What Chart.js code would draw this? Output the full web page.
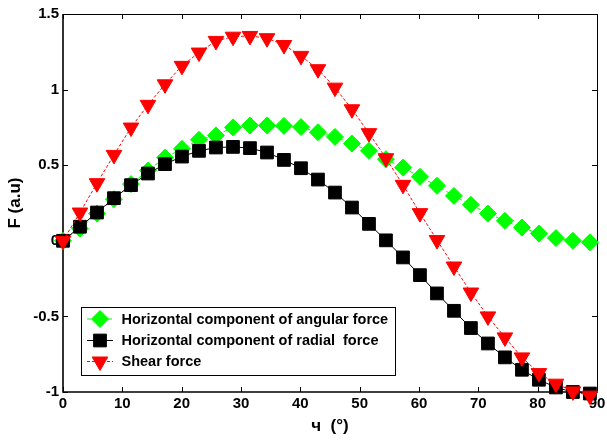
<!DOCTYPE html>
<html>
<head>
<meta charset="utf-8">
<script src="https://cdn.jsdelivr.net/npm/chart.js@4/dist/chart.umd.min.js"></script>
<style>
  html, body { margin: 0; padding: 0; background: #fff; }
  canvas { display: block; }
</style>
</head>
<body>
<canvas id="chart" width="607" height="440"></canvas>
<script>
// Angle samples in degrees (step of 0.05 rad).
const angleDeg = [0, 2.86, 5.73, 8.59, 11.46, 14.32, 17.19, 20.05, 22.92, 25.78,
  28.65, 31.51, 34.38, 37.24, 40.11, 42.97, 45.84, 48.70, 51.57, 54.43,
  57.30, 60.16, 63.03, 65.89, 68.75, 71.62, 74.48, 77.35, 80.21, 83.08,
  85.94, 88.81];

const angularForce = [0, 0.08, 0.18, 0.275, 0.375, 0.465, 0.55, 0.608, 0.668, 0.697,
  0.75, 0.762, 0.763, 0.76, 0.752, 0.718, 0.687, 0.643, 0.595, 0.54,
  0.484, 0.423, 0.364, 0.297, 0.238, 0.18, 0.132, 0.088, 0.048, 0.018,
  0.0, -0.01];

const radialForce = [0, 0.093, 0.187, 0.282, 0.368, 0.445, 0.507, 0.557, 0.595, 0.617,
  0.621, 0.613, 0.584, 0.535, 0.48, 0.405, 0.319, 0.22, 0.112, 0.003,
  -0.11, -0.227, -0.348, -0.463, -0.577, -0.679, -0.771, -0.853, -0.919, -0.97,
  -1.0, -1.01];

const shearForce = [0, 0.187, 0.381, 0.568, 0.749, 0.899, 1.035, 1.157, 1.245, 1.322,
  1.35, 1.355, 1.34, 1.295, 1.223, 1.135, 1.013, 0.87, 0.712, 0.546,
  0.37, 0.183, 0.005, -0.17, -0.342, -0.5, -0.639, -0.771, -0.875, -0.945,
  -0.996, -1.024];

const seriesLabels = [
  "Horizontal component of angular force",
  "Horizontal component of radial  force",
  "Shear force",
];

const xTicks = [0, 10, 20, 30, 40, 50, 60, 70, 80, 90];
const yTicks = [-1, -0.5, 0, 0.5, 1, 1.5];

const FONT = "'Liberation Sans', Arial, sans-serif";
Chart.defaults.font.family = FONT;
Chart.defaults.color = "#000";

const toPoints = (ys) => angleDeg.map((x, i) => ({ x, y: ys[i] }));

// MATLAB-ish box: full frame with ticks pointing inwards on all four sides.
const boxPlugin = {
  id: "box",
  beforeDatasetsDraw(chart) {
    const { ctx, chartArea: a, scales } = chart;
    const len = 5;
    ctx.save();
    ctx.strokeStyle = "#000";
    ctx.lineWidth = 1;
    ctx.beginPath();
    scales.x.ticks.forEach((t) => {
      const px = Math.round(scales.x.getPixelForValue(t.value)) + 0.5;
      ctx.moveTo(px, a.bottom); ctx.lineTo(px, a.bottom - len);
      ctx.moveTo(px, a.top); ctx.lineTo(px, a.top + len);
    });
    scales.y.ticks.forEach((t) => {
      const py = Math.round(scales.y.getPixelForValue(t.value)) + 0.5;
      ctx.moveTo(a.left, py); ctx.lineTo(a.left + len, py);
      ctx.moveTo(a.right, py); ctx.lineTo(a.right - len, py);
    });
    ctx.moveTo(a.left, a.top + 0.5); ctx.lineTo(a.right, a.top + 0.5);
    ctx.moveTo(a.right + 0.5, a.top); ctx.lineTo(a.right + 0.5, a.bottom);
    ctx.stroke();
    ctx.lineWidth = 1.6;
    ctx.beginPath();
    ctx.moveTo(a.left, a.top); ctx.lineTo(a.left, a.bottom);
    ctx.lineTo(a.right + 1, a.bottom);
    ctx.stroke();
    ctx.restore();
  },
};

// Legend drawn inside the axes, lower left, with a framed box.
const legendPlugin = {
  id: "boxLegend",
  afterDatasetsDraw(chart) {
    const { ctx } = chart;
    const box = { x: 81.5, y: 307.5, w: 314, h: 68 };
    const rows = [319, 340.5, 361.5];
    ctx.save();
    ctx.fillStyle = "#fff";
    ctx.fillRect(box.x, box.y, box.w, box.h);
    ctx.strokeStyle = "#000";
    ctx.lineWidth = 1;
    ctx.strokeRect(box.x, box.y, box.w, box.h);
    ctx.font = "bold 14.5px " + FONT;
    ctx.textBaseline = "middle";
    chart.data.datasets.forEach((ds, i) => {
      const y = rows[i];
      ctx.save();
      ctx.strokeStyle = ds.borderColor;
      ctx.lineWidth = ds.borderWidth;
      ctx.setLineDash(ds.borderDash || []);
      ctx.beginPath();
      ctx.moveTo(87, y); ctx.lineTo(113, y);
      ctx.stroke();
      ctx.restore();
      ctx.save();
      ctx.fillStyle = ds.pointBackgroundColor;
      ctx.strokeStyle = ds.pointBorderColor;
      ctx.lineWidth = 1;
      Chart.helpers.drawPoint(ctx, {
        pointStyle: ds.pointStyle,
        rotation: ds.pointRotation || 0,
        radius: ds.pointRadius,
        borderWidth: 1,
      }, 100, y);
      ctx.restore();
      ctx.fillStyle = "#000";
      ctx.fillText(ds.label, 121.5, y + 0.5);
    });
    ctx.restore();
  },
};

new Chart(document.getElementById("chart"), {
  type: "line",
  data: {
    datasets: [
      {
        label: seriesLabels[0],
        data: toPoints(angularForce),
        borderColor: "#00ff00",
        borderWidth: 1,
        borderDash: [4, 3],
        pointStyle: "rectRot",
        pointRadius: 8.5,
        pointBackgroundColor: "#00ff00",
        pointBorderColor: "#00ff00",
        pointBorderWidth: 1,
        order: 3,
        clip: false,
      },
      {
        label: seriesLabels[1],
        data: toPoints(radialForce),
        borderColor: "#000",
        borderWidth: 1,
        pointStyle: "rect",
        pointRadius: 9,
        pointBackgroundColor: "#000",
        pointBorderColor: "#000",
        pointBorderWidth: 1,
        order: 2,
        clip: false,
      },
      {
        label: seriesLabels[2],
        data: toPoints(shearForce),
        borderColor: "#ff0000",
        borderWidth: 1,
        borderDash: [3, 2],
        pointStyle: "triangle",
        pointRotation: 180,
        pointRadius: 9,
        pointBackgroundColor: "#ff0000",
        pointBorderColor: "#ff0000",
        pointBorderWidth: 1,
        order: 1,
        clip: false,
      },
    ],
  },
  options: {
    responsive: false,
    animation: false,
    devicePixelRatio: 1,
    layout: { padding: { left: 0, right: 6, top: 14, bottom: 0 } },
    plugins: { legend: { display: false }, tooltip: { enabled: false } },
    scales: {
      x: {
        type: "linear",
        min: 0,
        max: 90,
        afterBuildTicks: (s) => { s.ticks = xTicks.map((v) => ({ value: v })); },
        afterFit: (s) => { s.height = 48; s.paddingLeft = 0; s.paddingRight = 0; },
        grid: { display: false, drawTicks: false },
        border: { display: false },
        ticks: {
          padding: 3,
          maxRotation: 0,
          autoSkip: false,
          font: { size: 15, weight: "bold" },
          callback: (v) => String(v),
        },
        title: {
          display: true,
          text: "ч  (°)",
          font: { size: 17, weight: "bold" },
          padding: { top: 0, bottom: 3 },
        },
      },
      y: {
        type: "linear",
        min: -1,
        max: 1.5,
        afterBuildTicks: (s) => { s.ticks = yTicks.map((v) => ({ value: v })); },
        afterFit: (s) => { s.width = 63; },
        grid: { display: false, drawTicks: false },
        border: { display: false },
        ticks: {
          padding: 4,
          autoSkip: false,
          font: { size: 15, weight: "bold" },
          callback: (v) => String(v),
        },
        title: {
          display: true,
          text: "F (a.u)",
          font: { size: 17, weight: "bold" },
          padding: { top: 5, bottom: 0 },
        },
      },
    },
  },
  plugins: [boxPlugin, legendPlugin],
});
</script>
</body>
</html>
